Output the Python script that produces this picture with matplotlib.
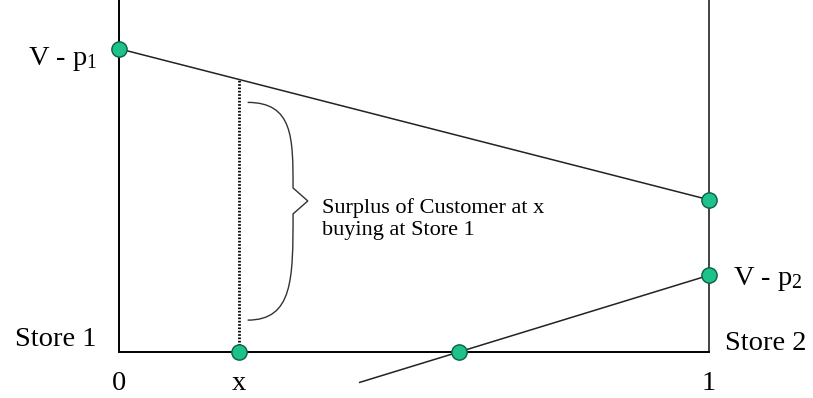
import matplotlib
matplotlib.use("Agg")

import numpy as np
import matplotlib.pyplot as plt
from matplotlib.path import Path
from matplotlib.patches import PathPatch

# valores del modelo de Hotelling (unidades del dibujo)
v_p1 = 0.514          # V - p1 en la tienda 1 (x = 0)
surplus1_at_1 = 0.258  # excedente comprando en tienda 1 para x = 1
v_p2 = 0.130          # V - p2 en la tienda 2 (x = 1)
cruce2 = 0.576        # donde la linea de la tienda 2 corta el eje
x_ini2 = 0.408        # inicio de la linea de la tienda 2
x_cliente = 0.203     # posicion del cliente x

tick_pos = [0, x_cliente, 1]
tick_lab = ["0", "x", "1"]
texto_excedente = ["Surplus of Customer at x", "buying at Store 1"]

verde = "#1cc18c"
borde = "#0d5e43"
serif = ["Liberation Serif", "DejaVu Serif"]

plt.rcParams["mathtext.fontset"] = "custom"
plt.rcParams["mathtext.rm"] = "Liberation Serif"
plt.rcParams["mathtext.it"] = "Liberation Serif:italic"


def linea1(x):
    return v_p1 + (surplus1_at_1 - v_p1) * x


def linea2(x):
    return v_p2 * (x - cruce2) / (1 - cruce2)


fig = plt.figure(figsize=(8.13, 3.98), dpi=100)
ax = fig.add_axes([0, 0, 1, 1])
ax.set_xlim(-0.2017, 1.1763)
ax.set_ylim(-0.078, 0.5966)
ax.axis("off")

top = 0.5966
# ejes: izquierdo, derecho y abajo
ax.plot([0, 0], [0, top], color="black", lw=1.4, solid_capstyle="butt")
ax.plot([1, 1], [0, top], color="#222222", lw=1.2, solid_capstyle="butt")
ax.plot([0, 1], [0, 0], color="black", lw=1.4)

# linea de excedente comprando en tienda 1
xs = np.array([0, 1])
ax.plot(xs, linea1(xs), color="#222222", lw=1.1, zorder=2)

# linea de la tienda 2
xs2 = np.array([x_ini2, 1])
ax.plot(xs2, linea2(xs2), color="#222222", lw=1.1, zorder=2)

# linea punteada en x
ax.plot([x_cliente, x_cliente], [0, linea1(x_cliente)], color="black",
        lw=2.0, linestyle=(0, (0.6, 0.6)), zorder=2)

# llave (brace)
yb_top = linea1(x_cliente) - 0.039
yb_bot = 0.054
ymid = 0.256
xb0 = x_cliente + 0.015
xb1 = x_cliente + 0.092
xtip = x_cliente + 0.117
verts = [
    (xb0, yb_top), (xb1, yb_top), (xb1, yb_top - 0.06), (xb1, ymid + 0.022),
    (xtip, ymid),
    (xb1, ymid - 0.022),
    (xb1, yb_bot + 0.07), (xb1, yb_bot), (xb0, yb_bot),
]
codes = [Path.MOVETO, Path.CURVE4, Path.CURVE4, Path.CURVE4,
         Path.LINETO, Path.LINETO,
         Path.CURVE4, Path.CURVE4, Path.CURVE4]
ax.add_patch(PathPatch(Path(verts, codes), fill=False, ec="#333333", lw=1.0))

ax.text(xtip + 0.024, 0.2356, texto_excedente[0], family=serif, fontsize=16,
        ha="left", va="baseline")
ax.text(xtip + 0.024, 0.198, texto_excedente[1], family=serif, fontsize=16,
        ha="left", va="baseline")

# puntos
px = [0, 1, 1, cruce2, x_cliente]
py = [v_p1, surplus1_at_1, v_p2, 0, 0]
ax.plot(px, py, linestyle="none", marker="o", ms=11, mfc=verde, mec=borde,
        mew=1.0, zorder=5, clip_on=False)

# etiquetas
ax.text(-0.037, 0.486, r"V - p$_\mathrm{1}$", family=serif, fontsize=20.5,
        ha="right", va="baseline")
ax.text(1.04, 0.1136, r"V - p$_\mathrm{2}$", family=serif, fontsize=20.5,
        ha="left", va="baseline")
ax.text(-0.039, 0.0102, "Store 1", family=serif, fontsize=20.5, ha="right",
        va="baseline")
ax.text(1.027, 0.0034, "Store 2", family=serif, fontsize=20.5, ha="left",
        va="baseline")
for p, lab in zip(tick_pos, tick_lab):
    ax.text(p, -0.064, lab, family=serif, fontsize=20.5, ha="center",
            va="baseline")

fig.savefig("out.png", dpi=100)
